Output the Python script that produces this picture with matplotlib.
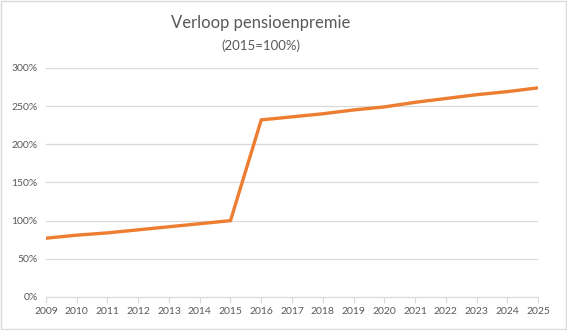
import matplotlib
matplotlib.use("Agg")
from matplotlib import pyplot as plt
from matplotlib.ticker import FuncFormatter

years = list(range(2009, 2026))
premie = [77, 81, 84, 88, 92, 96, 100, 232, 236, 240, 245, 249, 255, 260, 265, 269, 274]
yticks = [0, 50, 100, 150, 200, 250, 300]

plt.rcParams['font.family'] = ['Lato', 'DejaVu Sans']
grey = '#595959'

fig = plt.figure(figsize=(5.67, 3.30), dpi=100)
fig.patches.append(plt.Rectangle((0.002, 0.003), 0.996, 0.994, transform=fig.transFigure,
                                 fill=False, edgecolor='#d9d9d9', linewidth=1))
ax = fig.add_axes([0.081, 0.1, 0.868, 0.694])

ax.plot(years, premie, color='#ed7d31', linewidth=2.4, solid_joinstyle='miter')

ax.set_xlim(2009, 2025)
ax.set_ylim(0, 300)
ax.set_xticks(years)
ax.set_yticks(yticks)
ax.yaxis.set_major_formatter(FuncFormatter(lambda v, p: '%d%%' % v))
ax.grid(axis='y', color='#d9d9d9', linewidth=0.9)
ax.set_axisbelow(True)
for s in ['top', 'right', 'left']:
    ax.spines[s].set_visible(False)
ax.spines['bottom'].set_color('#d9d9d9')
ax.tick_params(axis='y', length=0, pad=6, labelsize=7.5, labelcolor=grey)
ax.tick_params(axis='x', length=4, color='#d9d9d9', pad=3, labelsize=7.5, labelcolor=grey)

fig.text(0.46, 0.93, 'Verloop pensioenpremie', ha='center', va='center', fontsize=12, color=grey)
fig.text(0.46, 0.862, '(2015=100%)', ha='center', va='center', fontsize=9.5, color=grey)

plt.savefig('out.png', dpi=100)
